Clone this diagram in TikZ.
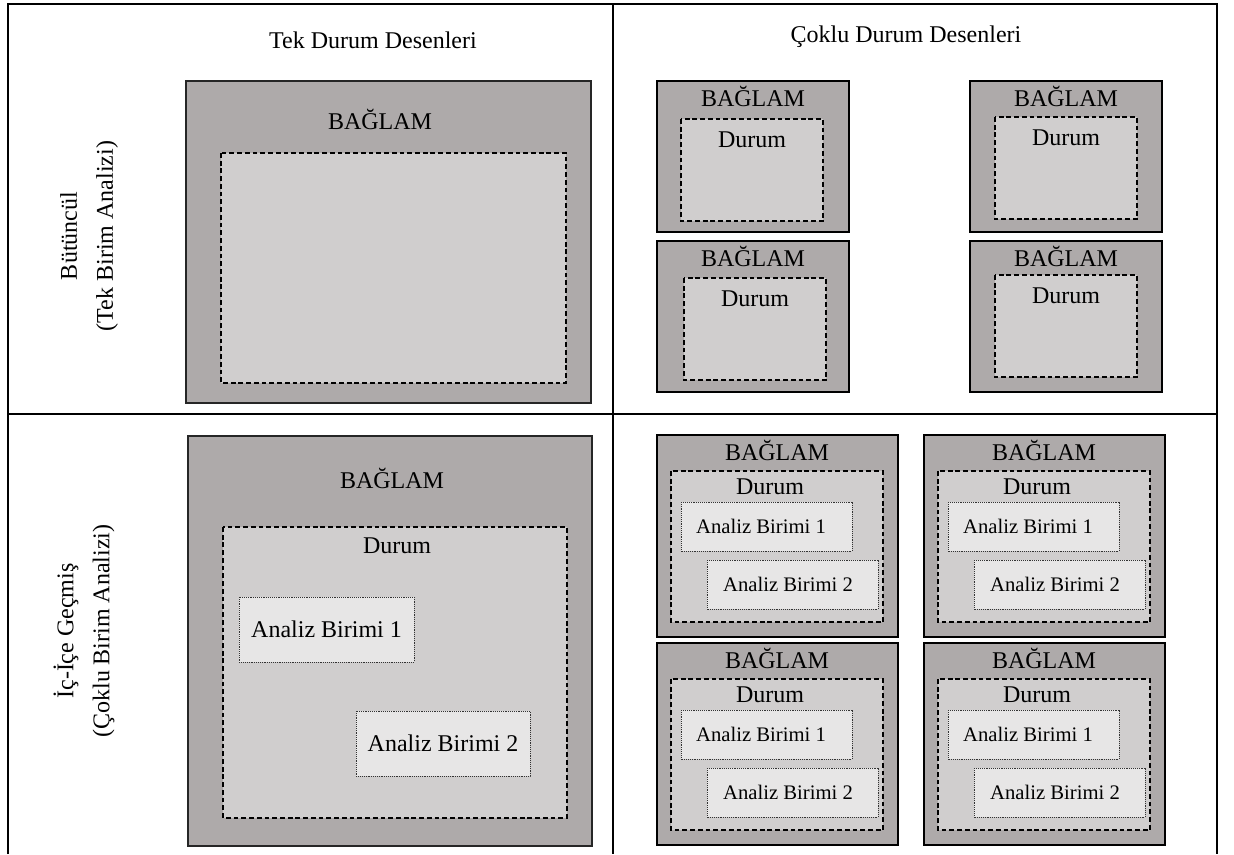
\documentclass[tikz,border=0pt]{standalone}
\usepackage{fontspec}
\setmainfont{Liberation Serif}
\usetikzlibrary{calc}

\definecolor{ctxgray}{HTML}{AEAAAA}
\definecolor{casegray}{HTML}{D0CECE}
\definecolor{unitgray}{HTML}{E7E6E6}

\tikzset{
  tbl/.style={line width=1.5pt},
  ctx/.style={fill=ctxgray,draw=black!85,line width=0.8pt},
  ctxthick/.style={fill=ctxgray,draw=black,line width=2.2pt},
  cas/.style={fill=casegray,draw=black,line width=0.8pt,dash pattern=on 3.6pt off 2.2pt},
  unit/.style={fill=unitgray,draw=black!80,line width=0.7pt,dash pattern=on 0.7pt off 0.7pt},
  txt/.style={font=\fontsize{18}{27}\selectfont,inner sep=0pt},
  smalltxt/.style={font=\fontsize{15.5}{18}\selectfont,inner sep=0pt}
}

\begin{document}
\begin{tikzpicture}[x=0.75pt,y=-0.75pt]

    \useasboundingbox (0,0) rectangle (1234,854);

    % table
    \path (8,4) coordinate (tl) (613,4) coordinate (tm) (1217,4) coordinate (tr)
          (8,854) coordinate (bl) (613,854) coordinate (bm) (1217,854) coordinate (br)
          (8,414) coordinate (ml) (1217,414) coordinate (mr);
    \draw[tbl] (bl) -- (tl) -- (tr) -- (br) (tm) -- (bm) (ml) -- (mr);

    \node[txt,anchor=base] (tekhead) at (373,48) {Tek Durum Desenleri};
    \node[txt,anchor=base] (cokhead) at (906,42) {Çoklu Durum Desenleri};
    \node[txt,rotate=90,align=center] (butrow) at (89,236) {Bütüncül\\(Tek Birim Analizi)};
    \node[txt,rotate=90,align=center] (icrow) at (84,631) {İç-İçe Geçmiş\\(Çoklu Birim Analizi)};

    % single holistic
    \path (186,81) coordinate (s1nw) (591,403) coordinate (s1se)
          (221,153) coordinate (s1dnw) (566,383) coordinate (s1dse);
    \draw[ctx] (s1nw) rectangle (s1se);
    \draw[cas] (s1dnw) rectangle (s1dse);
    \node[txt,anchor=base] (s1ctx) at (380,129) {BAĞLAM};

    % multiple holistic
    \foreach \x/\y/\dx/\dy [count=\i] in {657/81/24/38, 970/81/25/36, 657/241/27/37, 970/241/25/34}
    { \path (\x,\y) coordinate (m\i-nw) ++(192,151) coordinate (m\i-se);
      \path ([shift={(\dx,\dy)}]m\i-nw) coordinate (m\i-dnw) ++(142,102) coordinate (m\i-dse);
      \draw[ctxthick] (m\i-nw) rectangle (m\i-se);
      \draw[cas] (m\i-dnw) rectangle (m\i-dse);
      \node[txt,anchor=base] (m\i-ctx) at ([shift={(96,25)}]m\i-nw) {BAĞLAM};
      \node[txt,anchor=base] (m\i-cas) at ([shift={(71,28)}]m\i-dnw) {Durum}; }

    % single embedded
    \path (188,436) coordinate (s2nw) (592,846) coordinate (s2se)
          (223,527) coordinate (s2dnw) (567,818) coordinate (s2dse)
          (239,597) coordinate (s2anw) (414,662) coordinate (s2ase)
          (356,711) coordinate (s2bnw) (530,776) coordinate (s2bse);
    \draw[ctx] (s2nw) rectangle (s2se);
    \draw[cas] (s2dnw) rectangle (s2dse);
    \draw[unit] (s2anw) rectangle (s2ase);
    \draw[unit] (s2bnw) rectangle (s2bse);
    \node[txt,anchor=base] (s2ctx) at (392,488) {BAĞLAM};
    \node[txt,anchor=base] (s2cas) at (397,553) {Durum};
    \node[txt] (s2u1) at ($(s2anw)!.5!(s2ase)$) {Analiz Birimi 1};
    \node[txt] (s2u2) at ($(s2bnw)!.5!(s2bse)$) {Analiz Birimi 2};

    % multiple embedded
    \foreach \x/\y [count=\i] in {657/435, 924/435, 657/643, 924/643}
    { \path (\x,\y) coordinate (e\i-nw) ++(241,202) coordinate (e\i-se);
      \path ([shift={(14,36)}]e\i-nw) coordinate (e\i-dnw) ([shift={(226,187)}]e\i-nw) coordinate (e\i-dse);
      \path ([shift={(24,67)}]e\i-nw) coordinate (e\i-anw) ([shift={(195,116)}]e\i-nw) coordinate (e\i-ase);
      \path ([shift={(50,125)}]e\i-nw) coordinate (e\i-bnw) ([shift={(221,174)}]e\i-nw) coordinate (e\i-bse);
      \draw[ctxthick] (e\i-nw) rectangle (e\i-se);
      \draw[cas] (e\i-dnw) rectangle (e\i-dse);
      \draw[unit] (e\i-anw) rectangle (e\i-ase);
      \draw[unit] (e\i-bnw) rectangle (e\i-bse);
      \node[txt,anchor=base] (e\i-ctx) at ([shift={(120,25)}]e\i-nw) {BAĞLAM};
      \node[txt,anchor=base] (e\i-cas) at ([shift={(113,59)}]e\i-nw) {Durum};
      \node[smalltxt] (e\i-u1) at ([shift={(104,91)}]e\i-nw) {Analiz Birimi 1};
      \node[smalltxt] (e\i-u2) at ([shift={(131,149)}]e\i-nw) {Analiz Birimi 2}; }
  \end{tikzpicture}
\end{document}
